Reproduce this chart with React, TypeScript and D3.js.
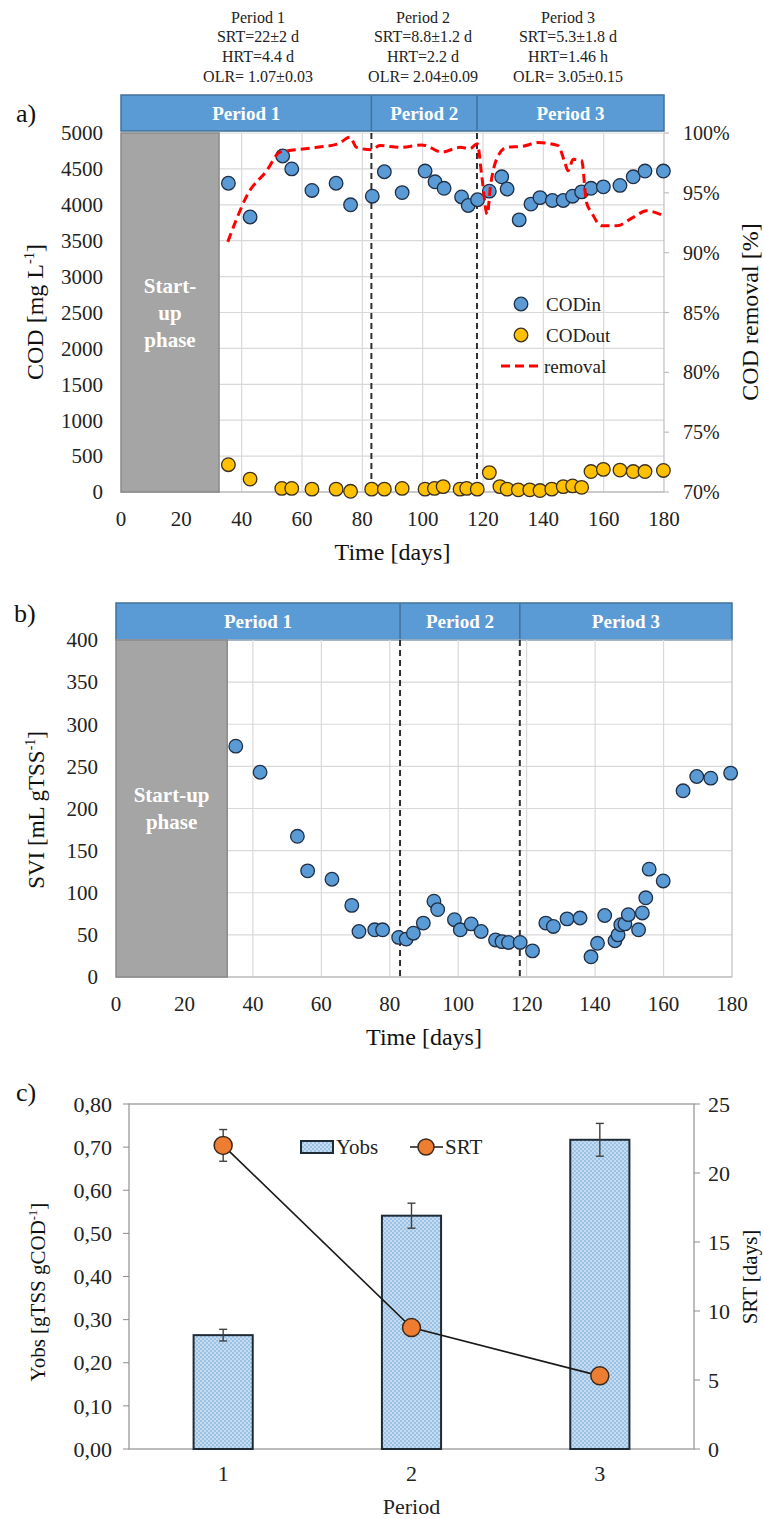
import React, { useEffect, useRef } from 'react'
import * as d3 from 'd3'

// ---- panel a: COD in / out and removal ----
const codInDays = [35.6, 42.8, 53.6, 56.6, 63.3, 71.3, 76.1, 83.3, 87.3, 93.2, 100.8, 104.1, 107.1, 112.9, 115.1, 118.2, 122.1, 126.2, 128.0, 132.0, 135.9, 138.9, 143.0, 146.6, 149.7, 152.7, 155.8, 159.9, 165.4, 169.8, 173.7, 179.8]
const codIn = [4300, 3830, 4680, 4500, 4200, 4300, 4000, 4120, 4460, 4170, 4470, 4320, 4230, 4110, 3990, 4070, 4190, 4390, 4220, 3790, 4010, 4100, 4060, 4060, 4120, 4180, 4230, 4250, 4270, 4390, 4470, 4470]
const codOutDays = [35.6, 42.8, 53.3, 56.6, 63.3, 71.3, 76.1, 83.1, 87.3, 93.2, 100.8, 103.9, 106.8, 112.4, 114.6, 118.1, 122.1, 125.6, 128.0, 131.7, 135.5, 138.9, 142.8, 146.6, 149.7, 152.7, 155.8, 159.9, 165.4, 169.8, 173.7, 179.8]
const codOut = [380, 180, 50, 50, 40, 40, 10, 40, 40, 50, 40, 50, 75, 40, 50, 40, 270, 75, 40, 30, 30, 20, 40, 75, 85, 65, 285, 315, 305, 285, 285, 300]
const removalDays = [35.4, 38.3, 41.7, 48.3, 52.7, 54.9, 64.9, 72.0, 75.9, 78.1, 83.1, 85.8, 92.5, 99.7, 101, 106.3, 112.4, 115.7, 118.1, 119.6, 121.4, 122.5, 124.5, 127.8, 133.3, 138.3, 144.9, 147.1, 148.2, 149.9, 152.7, 154.3, 156, 159.3, 164.3, 169.8, 174.2, 179.8]
const removalPct = [90.9, 92.8, 94.75, 96.85, 98.4, 98.5, 98.8, 99.1, 99.65, 98.8, 98.6, 98.95, 98.8, 99.0, 98.95, 98.4, 98.8, 98.7, 99.1, 96.4, 93.2, 95.6, 97.8, 98.8, 98.9, 99.2, 98.95, 97.55, 96.85, 97.8, 97.7, 94.2, 93.35, 92.25, 92.25, 92.95, 93.5, 93.1]

// ---- panel b: SVI ----
const sviDays = [35.0, 42.1, 53.0, 56.0, 63.1, 68.9, 71.0, 75.6, 77.9, 82.6, 84.8, 86.9, 89.8, 92.9, 94.0, 98.9, 100.6, 103.8, 106.7, 110.9, 112.8, 114.7, 118.1, 121.7, 125.6, 127.8, 131.8, 135.6, 138.8, 140.7, 142.8, 145.8, 146.7, 147.5, 148.7, 149.7, 152.7, 153.8, 154.8, 155.8, 159.9, 165.7, 169.7, 173.8, 179.6]
const svi = [274, 243, 167, 126, 116, 85, 54, 56, 56, 47, 45, 52, 64, 90, 80, 68, 56, 63, 54, 44, 42, 41, 41, 31, 64, 60, 69, 70, 24, 40, 73, 43, 50, 62, 63, 74, 56, 76, 94, 128, 114, 221, 238, 236, 242]

// ---- shared period info ----
const periodNames = ['Period 1', 'Period 2', 'Period 3']
const periodBounds = [0, 83, 118, 180]
const startUpEnd = 32.5
const startUpA = ['Start-', 'up', 'phase']
const startUpB = ['Start-up', 'phase']
const periodInfo = [
  ['Period 1', 'SRT=22±2 d', 'HRT=4.4 d', 'OLR= 1.07±0.03'],
  ['Period 2', 'SRT=8.8±1.2 d', 'HRT=2.2 d', 'OLR= 2.04±0.09'],
  ['Period 3', 'SRT=5.3±1.8 d', 'HRT=1.46 h', 'OLR= 3.05±0.15'],
]

// ---- panel c: Yobs and SRT ----
const periods = ['1', '2', '3']
const yobs = [0.264, 0.541, 0.717]
const yobsErr = [0.0135, 0.029, 0.038]
const srt = [22, 8.8, 5.3]
const srtErr = [1.15, 0, 0]

const FONT = "'Liberation Serif', 'Times New Roman', Times, serif"
const BLUE = '#5B9BD5'
const GRID = '#D9D9D9'
const AXIS = '#BFBFBF'

type Sel = d3.Selection<SVGSVGElement, unknown, null, undefined>

function drawBand(svg: Sel, x: d3.ScaleLinear<number, number>, y0: number, y1: number) {
  const g = svg.append('g')
  g.append('rect')
    .attr('x', x(0)).attr('y', y0)
    .attr('width', x(180) - x(0)).attr('height', y1 - y0)
    .attr('fill', BLUE).attr('stroke', '#41719C').attr('stroke-width', 1.5)
  periodBounds.slice(1, 3).forEach(b => {
    g.append('line').attr('x1', x(b)).attr('x2', x(b)).attr('y1', y0).attr('y2', y1)
      .attr('stroke', '#41719C').attr('stroke-width', 1.5)
  })
  periodNames.forEach((n, i) => {
    g.append('text').text(n)
      .attr('x', (x(periodBounds[i]) + x(periodBounds[i + 1])) / 2)
      .attr('y', (y0 + y1) / 2).attr('dy', '0.36em')
      .attr('text-anchor', 'middle').attr('fill', '#fff')
      .attr('font-weight', 'bold').attr('font-size', 19).attr('font-family', FONT)
  })
}

function drawFrame(svg: Sel, x: d3.ScaleLinear<number, number>, y: d3.ScaleLinear<number, number>, yTicks: number[], startUp: string[]) {
  const g = svg.append('g')
  const top = y(yTicks[yTicks.length - 1])
  yTicks.forEach(t => {
    g.append('line').attr('x1', x(0)).attr('x2', x(180)).attr('y1', y(t)).attr('y2', y(t))
      .attr('stroke', GRID).attr('stroke-width', 1.2)
  })
  d3.range(20, 181, 20).forEach(t => {
    g.append('line').attr('x1', x(t)).attr('x2', x(t)).attr('y1', top).attr('y2', y(0))
      .attr('stroke', t === 180 ? AXIS : GRID).attr('stroke-width', 1.2)
  })
  g.append('line').attr('x1', x(0)).attr('x2', x(180)).attr('y1', y(0)).attr('y2', y(0))
    .attr('stroke', AXIS).attr('stroke-width', 1.5)
  // start-up box
  g.append('rect').attr('x', x(0)).attr('y', top)
    .attr('width', x(startUpEnd) - x(0)).attr('height', y(0) - top)
    .attr('fill', '#A5A5A5').attr('stroke', '#8A8A8A').attr('stroke-width', 1.5)
  const mid = (top + y(0)) / 2
  startUp.forEach((s, i) => {
    g.append('text').text(s)
      .attr('x', (x(0) + x(startUpEnd)) / 2)
      .attr('y', mid + (i - (startUp.length - 1) / 2) * 27).attr('dy', '0.35em')
      .attr('text-anchor', 'middle').attr('fill', '#fff').attr('font-weight', 'bold')
      .attr('font-size', 21).attr('font-family', FONT)
  })
  // period separators
  periodBounds.slice(1, 3).forEach(b => {
    g.append('line').attr('x1', x(b)).attr('x2', x(b)).attr('y1', top).attr('y2', y(0))
      .attr('stroke', '#2F2F2F').attr('stroke-width', 2).attr('stroke-dasharray', '6,4')
  })
  // tick labels
  yTicks.forEach(t => {
    g.append('text').text(t).attr('x', x(0) - 18).attr('y', y(t)).attr('dy', '0.35em')
      .attr('text-anchor', 'end').attr('font-size', 21).attr('font-family', FONT).attr('fill', '#222')
  })
  d3.range(0, 181, 20).forEach(t => {
    g.append('text').text(t).attr('x', x(t)).attr('y', y(0) + 27).attr('dy', '0.35em')
      .attr('text-anchor', 'middle').attr('font-size', 21).attr('font-family', FONT).attr('fill', '#222')
  })
  g.append('text').text('Time [days]').attr('x', (x(0) + x(180)) / 2).attr('y', y(0) + 60).attr('dy', '0.35em')
    .attr('text-anchor', 'middle').attr('font-size', 24).attr('font-family', FONT).attr('fill', '#111')
}

function rotTitle(svg: Sel, cx: number, cy: number, main: string, sup: string, tail: string, size: number) {
  const t = svg.append('text').attr('transform', `translate(${cx},${cy}) rotate(-90)`)
    .attr('text-anchor', 'middle').attr('dy', '0.35em')
    .attr('font-size', size).attr('font-family', FONT).attr('fill', '#111')
  t.append('tspan').text(main)
  if (sup) {
    t.append('tspan').text(sup).attr('font-size', size * 0.6).attr('dy', -size * 0.4)
    t.append('tspan').text(tail).attr('dy', size * 0.4)
  }
}

function drawPanelA(svg: Sel) {
  const x = d3.scaleLinear().domain([0, 180]).range([121, 664])
  const y = d3.scaleLinear().domain([0, 5000]).range([492, 133])
  const yR = d3.scaleLinear().domain([70, 100]).range([492, 133])

  // period info text on top
  const centers = [258, 423, 568]
  periodInfo.forEach((lines, i) => {
    lines.forEach((l, j) => {
      svg.append('text').text(l).attr('x', centers[i]).attr('y', 17 + j * 19.7).attr('dy', '0.35em')
        .attr('text-anchor', 'middle').attr('font-size', 16).attr('font-family', FONT).attr('fill', '#222')
    })
  })
  svg.append('text').text('a)').attr('x', 16).attr('y', 113).attr('dy', '0.35em')
    .attr('font-size', 26).attr('font-family', FONT).attr('fill', '#111')

  drawBand(svg, x, 95, 131)
  drawFrame(svg, x, y, d3.range(0, 5001, 500), startUpA)

  // right axis
  d3.range(70, 101, 5).forEach(t => {
    svg.append('line').attr('x1', x(180)).attr('x2', x(180) + 5).attr('y1', yR(t)).attr('y2', yR(t))
      .attr('stroke', AXIS).attr('stroke-width', 1.2)
    svg.append('text').text(`${t}%`).attr('x', 683).attr('y', yR(t)).attr('dy', '0.35em')
      .attr('font-size', 20).attr('font-family', FONT).attr('fill', '#222')
  })

  rotTitle(svg, 35, 312, 'COD [mg L', '-1', ']', 24)
  rotTitle(svg, 750, 312, 'COD removal [%]', '', '', 24)

  const pts = (days: number[], vals: number[]) => days.map((d, i) => [d, vals[i]] as [number, number])

  svg.append('g').selectAll('circle').data(pts(codOutDays, codOut)).enter().append('circle')
    .attr('cx', d => x(d[0])).attr('cy', d => y(d[1])).attr('r', 6.8)
    .attr('fill', '#FFC000').attr('stroke', '#3A3020').attr('stroke-width', 1.3)
  svg.append('g').selectAll('circle').data(pts(codInDays, codIn)).enter().append('circle')
    .attr('cx', d => x(d[0])).attr('cy', d => y(d[1])).attr('r', 6.8)
    .attr('fill', BLUE).attr('stroke', '#1F2F45').attr('stroke-width', 1.3)

  const line = d3.line<[number, number]>().x(d => x(d[0])).y(d => yR(d[1])).curve(d3.curveMonotoneX)
  svg.append('path').attr('d', line(pts(removalDays, removalPct)))
    .attr('fill', 'none').attr('stroke', '#FF0000').attr('stroke-width', 3).attr('stroke-dasharray', '9,5')

  // legend
  const lg = svg.append('g').attr('font-family', FONT).attr('font-size', 19).attr('fill', '#222')
  lg.append('circle').attr('cx', 521).attr('cy', 304).attr('r', 6.8).attr('fill', BLUE).attr('stroke', '#1F2F45').attr('stroke-width', 1.3)
  lg.append('text').text('CODin').attr('x', 546).attr('y', 304).attr('dy', '0.35em')
  lg.append('circle').attr('cx', 521).attr('cy', 335).attr('r', 6.8).attr('fill', '#FFC000').attr('stroke', '#3A3020').attr('stroke-width', 1.3)
  lg.append('text').text('CODout').attr('x', 546).attr('y', 335).attr('dy', '0.35em')
  lg.append('line').attr('x1', 501).attr('x2', 543).attr('y1', 366).attr('y2', 366)
    .attr('stroke', '#FF0000').attr('stroke-width', 3).attr('stroke-dasharray', '9,5')
  lg.append('text').text('removal').attr('x', 544).attr('y', 366).attr('dy', '0.35em')
}

function drawPanelB(svg: Sel) {
  const x = d3.scaleLinear().domain([0, 180]).range([116, 732])
  const y = d3.scaleLinear().domain([0, 400]).range([977, 640])

  svg.append('text').text('b)').attr('x', 14).attr('y', 613).attr('dy', '0.35em')
    .attr('font-size', 26).attr('font-family', FONT).attr('fill', '#111')
  drawBand(svg, x, 603, 640)
  drawFrame(svg, x, y, d3.range(0, 401, 50), startUpB)
  rotTitle(svg, 36, 810, 'SVI [mL gTSS', '-1', ']', 23)

  svg.append('g').selectAll('circle').data(sviDays.map((d, i) => [d, svi[i]])).enter().append('circle')
    .attr('cx', d => x(d[0])).attr('cy', d => y(d[1])).attr('r', 6.8)
    .attr('fill', BLUE).attr('stroke', '#1F2F45').attr('stroke-width', 1.3)
}

function drawPanelC(svg: Sel) {
  const x = d3.scaleBand().domain(periods).range([129, 694]).paddingInner(0.686).paddingOuter(0.343)
  const y = d3.scaleLinear().domain([0, 0.8]).range([1449, 1104])
  const yR = d3.scaleLinear().domain([0, 25]).range([1449, 1104])
  const cx = (p: string) => (x(p) as number) + x.bandwidth() / 2

  const defs = svg.append('defs')
  const pat = defs.append('pattern').attr('id', 'checks').attr('patternUnits', 'userSpaceOnUse')
    .attr('width', 4).attr('height', 4)
  pat.append('rect').attr('width', 4).attr('height', 4).attr('fill', '#C5DCF0')
  pat.append('rect').attr('width', 2).attr('height', 2).attr('fill', '#9CC2E5')
  pat.append('rect').attr('x', 2).attr('y', 2).attr('width', 2).attr('height', 2).attr('fill', '#9CC2E5')

  svg.append('text').text('c)').attr('x', 16).attr('y', 1092).attr('dy', '0.35em')
    .attr('font-size', 26).attr('font-family', FONT).attr('fill', '#111')

  svg.append('rect').attr('x', 129).attr('y', 1104).attr('width', 694 - 129).attr('height', 1449 - 1104)
    .attr('fill', 'none').attr('stroke', '#A6A6A6').attr('stroke-width', 1.5)

  d3.range(0, 0.81, 0.1).forEach(t => {
    svg.append('line').attr('x1', 123).attr('x2', 129).attr('y1', y(t)).attr('y2', y(t)).attr('stroke', '#8C8C8C')
    svg.append('text').text(d3.format('.2f')(t).replace('.', ',')).attr('x', 112).attr('y', y(t)).attr('dy', '0.35em')
      .attr('text-anchor', 'end').attr('font-size', 22).attr('font-family', FONT).attr('fill', '#222')
  })
  d3.range(0, 26, 5).forEach(t => {
    svg.append('line').attr('x1', 694).attr('x2', 700).attr('y1', yR(t)).attr('y2', yR(t)).attr('stroke', '#8C8C8C')
    svg.append('text').text(t).attr('x', 708).attr('y', yR(t)).attr('dy', '0.35em')
      .attr('font-size', 22).attr('font-family', FONT).attr('fill', '#222')
  })
  periods.forEach(p => {
    svg.append('text').text(p).attr('x', cx(p)).attr('y', 1473).attr('dy', '0.35em')
      .attr('text-anchor', 'middle').attr('font-size', 22).attr('font-family', FONT).attr('fill', '#222')
  })
  svg.append('text').text('Period').attr('x', cx('2')).attr('y', 1506).attr('dy', '0.35em')
    .attr('text-anchor', 'middle').attr('font-size', 22).attr('font-family', FONT).attr('fill', '#222')

  rotTitle(svg, 38, 1292, 'Yobs [gTSS gCOD', '-1', ']', 21)
  rotTitle(svg, 750, 1277, 'SRT [days]', '', '', 21)

  // bars
  svg.append('g').selectAll('rect').data(periods).enter().append('rect')
    .attr('x', d => x(d) as number).attr('width', x.bandwidth())
    .attr('y', (d, i) => y(yobs[i])).attr('height', (d, i) => y(0) - y(yobs[i]))
    .attr('fill', 'url(#checks)').attr('stroke', '#1E2A36').attr('stroke-width', 2)

  const errBar = (px: number, lo: number, hi: number) => {
    svg.append('line').attr('x1', px).attr('x2', px).attr('y1', lo).attr('y2', hi).attr('stroke', '#404040').attr('stroke-width', 1.4)
    ;[lo, hi].forEach(v => svg.append('line').attr('x1', px - 4).attr('x2', px + 4).attr('y1', v).attr('y2', v)
      .attr('stroke', '#404040').attr('stroke-width', 1.4))
  }
  periods.forEach((p, i) => errBar(cx(p), y(yobs[i] - yobsErr[i]), y(yobs[i] + yobsErr[i])))

  // SRT line
  const line = d3.line<string>().x(p => cx(p)).y((p, i) => yR(srt[i]))
  svg.append('path').attr('d', line(periods)).attr('fill', 'none').attr('stroke', '#1A1A1A').attr('stroke-width', 1.6)
  periods.forEach((p, i) => {
    if (srtErr[i] > 0) errBar(cx(p), yR(srt[i] - srtErr[i]), yR(srt[i] + srtErr[i]))
  })
  svg.append('g').selectAll('circle').data(periods).enter().append('circle')
    .attr('cx', p => cx(p)).attr('cy', (p, i) => yR(srt[i])).attr('r', 9)
    .attr('fill', '#ED7D31').attr('stroke', '#3A2A1E').attr('stroke-width', 1.5)

  // legend
  const lg = svg.append('g').attr('font-family', FONT).attr('font-size', 21).attr('fill', '#222')
  lg.append('rect').attr('x', 301).attr('y', 1141).attr('width', 32).attr('height', 12)
    .attr('fill', 'url(#checks)').attr('stroke', '#1E2A36').attr('stroke-width', 2)
  lg.append('text').text('Yobs').attr('x', 336).attr('y', 1147).attr('dy', '0.35em')
  lg.append('line').attr('x1', 410).attr('x2', 443).attr('y1', 1147).attr('y2', 1147).attr('stroke', '#1A1A1A').attr('stroke-width', 1.6)
  lg.append('circle').attr('cx', 426).attr('cy', 1147).attr('r', 8).attr('fill', '#ED7D31').attr('stroke', '#3A2A1E').attr('stroke-width', 1.5)
  lg.append('text').text('SRT').attr('x', 445).attr('y', 1147).attr('dy', '0.35em')
}

const App = () => {
  const ref = useRef<SVGSVGElement>(null)

  useEffect(() => {
    if (!ref.current) return
    const svg = d3.select(ref.current) as Sel
    svg.selectAll('*').remove()
    drawPanelA(svg)
    drawPanelB(svg)
    drawPanelC(svg)
  }, [])

  return (
    <svg
      ref={ref}
      width={764}
      height={1519}
      style={{ position: 'absolute', left: 0, top: 0, background: '#fff' }}
    />
  )
}

export default App
